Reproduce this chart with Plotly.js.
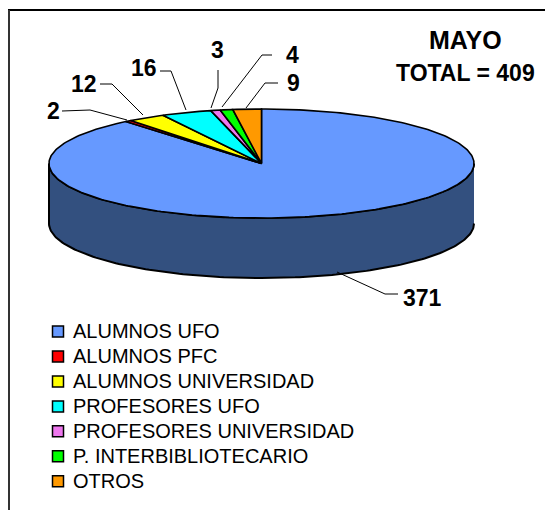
<!DOCTYPE html>
<html><head><meta charset="utf-8">
<script src="https://cdn.plot.ly/plotly-3.0.1.min.js"></script>
<style>html,body{margin:0;padding:0;background:#fff}
.legend .legendtext{font-size:20px !important;transform:translateX(-5px)}
.legend .scrollbox{clip-path:none !important}</style></head>
<body><div id="chart" style="width:545px;height:510px"></div>
<script>
const categories = ["ALUMNOS UFO","ALUMNOS PFC","ALUMNOS UNIVERSIDAD","PROFESORES UFO","PROFESORES UNIVERSIDAD","P. INTERBIBLIOTECARIO","OTROS"];
const values = [371,2,12,16,3,4,9];
const colors = ["#6699FF","#FF0000","#FFFF00","#00FFFF","#EE77EE","#00FF00","#FF9900"];
const wallColor = "#33507F";
const cx=261.5, cy=163.5, rx=212.5, ry=54.5, depth=60;
const total = values.reduce((a,b)=>a+b,0);
const px=t=>cx+rx*Math.sin(t), py=t=>cy-ry*Math.cos(t);
function arc(a,b){const n=Math.max(2,Math.ceil(Math.abs(b-a)/0.02));const xs=[],ys=[];
  for(let i=0;i<=n;i++){const t=a+(b-a)*i/n;xs.push(px(t));ys.push(py(t));}return [xs,ys];}
const traces=[];
// side wall
{const [xs,ys]=arc(Math.PI/2,3*Math.PI/2);
 traces.push({x:xs.concat(xs.slice().reverse()),y:ys.map(v=>v+depth).concat(ys.slice().reverse()),
  mode:'lines',fill:'toself',fillcolor:wallColor,line:{color:'#000',width:2},showlegend:false,hoverinfo:'skip'});}
// wedges
let cum=0;
values.forEach((v,i)=>{const a=cum/total*2*Math.PI;cum+=v;const b=cum/total*2*Math.PI;
  const [xs,ys]=arc(a,b);
  traces.push({x:[cx,...xs,cx],y:[cy,...ys,cy],mode:'lines',fill:'toself',fillcolor:colors[i],
   line:{color:'#000',width:1.6},showlegend:false,hoverinfo:'skip'});
});
// legend keys
categories.forEach((c,i)=>traces.push({x:[null],y:[null],name:c,legendgroup:c,mode:'markers',
  marker:{symbol:'square',size:11,color:colors[i],line:{color:'#000',width:1.5}}}));
// leader lines
const leaders=[[[398,385,337],[294,294,272]],[[62,90,127],[111,110,120]],[[100,112,143],[84,84,115]],
 [[160,171,186],[71,71,110]],[[218,218,211],[70,88,108]],[[272,262,222],[55,55,107]],[[278,265,246],[83,83,108]]];
leaders.forEach(l=>traces.push({x:l[0],y:l[1],mode:'lines',line:{color:'#000',width:1},showlegend:false,hoverinfo:'skip'}));
const labelPos=[[422,298],[53,111],[84,84],[144,68],[217,50],[292,55],[293,83]];
const annotations=values.map((v,i)=>({x:labelPos[i][0],y:labelPos[i][1],xref:'x',yref:'y',text:'<b>'+v+'</b>',showarrow:false,
  font:{family:'Liberation Sans',size:23,color:'#000'},xanchor:'center',yanchor:'middle'}));
annotations.push({x:465,y:40,xref:'x',yref:'y',text:'<b>MAYO</b>',showarrow:false,font:{family:'Liberation Sans',size:25,color:'#000'}});
annotations.push({x:465,y:73,xref:'x',yref:'y',text:'<b>TOTAL = 409</b>',showarrow:false,font:{family:'Liberation Sans',size:23,color:'#000'}});
const shapes=[
 {type:'line',xref:'x',yref:'y',x0:8,x1:545,y0:10,y1:10,line:{color:'#000',width:2}},
 {type:'line',xref:'x',yref:'y',x0:9,x1:9,y0:10,y1:510,line:{color:'#333',width:2}}];
Plotly.newPlot('chart',traces,{
 width:545,height:510,margin:{l:0,r:0,t:0,b:0},paper_bgcolor:'#fff',plot_bgcolor:'#fff',
 xaxis:{range:[0,545],visible:false,fixedrange:true},
 yaxis:{range:[510,0],visible:false,fixedrange:true},
 showlegend:true,
 legend:{x:38/545,y:1-314/510,xanchor:'left',yanchor:'top',traceorder:'grouped',tracegroupgap:0,itemwidth:30,
  font:{family:'Liberation Sans',size:16.9,color:'#000'},bgcolor:'rgba(0,0,0,0)'},
 annotations,shapes
},{staticPlot:true,displayModeBar:false});
</script></body></html>
